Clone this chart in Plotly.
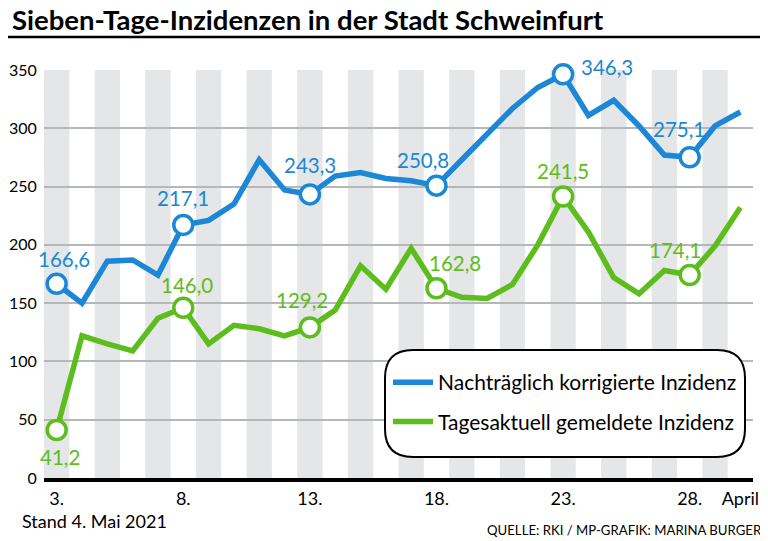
import plotly.graph_objects as go

# ---------------- data ----------------
days = list(range(3, 31))
korrigiert = [166.6, 150, 186, 187, 174, 217.1, 221, 235, 273, 247, 243.3, 259, 262, 257, 255,
              250.8, 273, 295, 317, 335, 346.3, 311, 324, 302, 277, 275.1, 302, 314]
tagesaktuell = [41.2, 122, 115, 109, 137, 146.0, 115, 131, 128, 122, 129.2, 144, 182, 162, 197,
                162.8, 155, 154, 166, 200, 241.5, 211, 172, 158, 178, 174.1, 199, 232]
label_days = [3, 8, 13, 18, 23, 28]
tick_vals = [3, 8, 13, 18, 23, 28, 30]
tick_text = ["3.", "8.", "13.", "18.", "23.", "28.", "April"]
y_ticks = [0, 50, 100, 150, 200, 250, 300, 350]
series_names = ["Nachträglich korrigierte Inzidenz", "Tagesaktuell gemeldete Inzidenz"]

# ---------------- style ----------------
BLUE = "#1b87d6"
GREEN = "#5dbd1c"
STRIPE = "#e4e6e7"
GRID = "#b5b8b8"
FONT = "Lato, Roboto, sans-serif"

# the page body has an 8px margin: work in page pixels and convert
OFF = 8
PAGE_W, PAGE_H = 768, 541
W, H = PAGE_W - OFF, PAGE_H - OFF
pL, pR, pT, pB = 44, 753, 70, 478          # plot area in page pixels
L, R, T, B = pL - OFF, pR - OFF, pT - OFF, pB - OFF


def px(x):  # page pixel x -> paper
    return (x - pL) / (pR - pL)


def py(y):  # page pixel y -> paper
    return (pB - y) / (pB - pT)


fig = go.Figure()

series = [(korrigiert, BLUE, series_names[0], "a"), (tagesaktuell, GREEN, series_names[1], "b")]
for vals, col, name, grp in series:
    fig.add_trace(go.Scatter(x=days, y=vals, mode="lines", name=name, legendgroup=grp,
                             line=dict(color=col, width=5.5), hoverinfo="skip"))
for vals, col, name, grp in series:
    lx = [d for d in days if d in label_days]
    ly = [v for d, v in zip(days, vals) if d in label_days]
    fig.add_trace(go.Scatter(x=lx, y=ly, mode="markers", showlegend=False, legendgroup=grp,
                             cliponaxis=False,
                             marker=dict(size=19, color="white", line=dict(color=col, width=3.5)),
                             hoverinfo="skip"))

# value labels with pixel offsets (dx, dy; dy positive = up)
blue_off = {3: (7, 25), 8: (0, 27), 13: (0, 29), 18: (-13, 26), 23: (44, 7), 28: (-11, 28)}
green_off = {3: (3, -27), 8: (4, 23), 13: (-8, 27), 18: (19, 25), 23: (0, 25), 28: (-15, 25)}
for vals, col, offs in [(korrigiert, BLUE, blue_off), (tagesaktuell, GREEN, green_off)]:
    for d, v in zip(days, vals):
        if d in offs:
            dx, dy = offs[d]
            fig.add_annotation(x=d, y=v, xref="x", yref="y", text=f"{v:.1f}".replace(".", ","),
                               showarrow=False, xshift=dx, yshift=dy,
                               font=dict(family=FONT, size=20.5, color=col))

shapes = []
# alternating day stripes
for d in days:
    if d % 2 == 1:
        shapes.append(dict(type="rect", xref="x", yref="y", x0=d - 0.5, x1=d + 0.5, y0=0, y1=350,
                           fillcolor=STRIPE, line=dict(width=0), layer="below"))

# rounded legend box (page pixels)
bx0, bx1, by0, by1, r = 385, 745, 350, 457, 28


def P(x, y):
    return f"{px(x):.5f},{py(y):.5f}"


path = (f"M {P(bx0 + r, by0)} L {P(bx1 - r, by0)} Q {P(bx1, by0)} {P(bx1, by0 + r)} "
        f"L {P(bx1, by1 - r)} Q {P(bx1, by1)} {P(bx1 - r, by1)} L {P(bx0 + r, by1)} "
        f"Q {P(bx0, by1)} {P(bx0, by1 - r)} L {P(bx0, by0 + r)} Q {P(bx0, by0)} {P(bx0 + r, by0)} Z")
shapes.append(dict(type="path", xref="paper", yref="paper", path=path, fillcolor="white",
                   line=dict(color="black", width=2), layer="above"))

# title underline
shapes.append(dict(type="line", xref="paper", yref="paper", x0=px(0), x1=px(PAGE_W),
                   y0=py(37), y1=py(37), line=dict(color="black", width=2.5)))

fig.update_layout(shapes=shapes)

fig.add_annotation(xref="paper", yref="paper", x=px(OFF + 2), y=py(19), xanchor="left", yanchor="middle",
                   text="Sieben-Tage-Inzidenzen in der Stadt Schweinfurt", showarrow=False,
                   font=dict(family=FONT, size=27.5, color="black", weight="bold"))
fig.add_annotation(xref="paper", yref="paper", x=px(20), y=py(521), xanchor="left", yanchor="middle",
                   text="Stand 4. Mai 2021", showarrow=False,
                   font=dict(family=FONT, size=18, color="black"))
fig.add_annotation(xref="paper", yref="paper", x=px(764), y=py(530), xanchor="right", yanchor="middle",
                   text="QUELLE: RKI / MP-GRAFIK: MARINA BURGER", showarrow=False,
                   font=dict(family=FONT, size=13.2, color="black"))

fig.update_layout(
    width=W, height=H,
    margin=dict(l=L, r=W - R, t=T, b=H - B, pad=0, autoexpand=False),
    paper_bgcolor="white", plot_bgcolor="white",
    font=dict(family=FONT, color="black"),
    showlegend=True,
    legend=dict(x=px(388), y=py(362), xanchor="left", yanchor="top", bgcolor="rgba(0,0,0,0)",
                borderwidth=0, font=dict(family=FONT, size=21, color="black"),
                traceorder="grouped", tracegroupgap=9, itemwidth=40),
    xaxis=dict(range=[2.5, 30.5], tickvals=tick_vals, ticktext=tick_text, showgrid=False,
               zeroline=False, showline=True, linecolor="black", linewidth=4, automargin=False,
               ticks="outside", ticklen=1, tickcolor="rgba(0,0,0,0)",
               tickfont=dict(family=FONT, size=18, color="black")),
    yaxis=dict(range=[0, 350], tickvals=y_ticks, showgrid=True, gridcolor=GRID, gridwidth=2,
               zeroline=False, showline=False, ticks="outside", ticklen=3, automargin=False,
               tickcolor="rgba(0,0,0,0)", tickfont=dict(family=FONT, size=16, color="black")),
)

fig.write_html("out.html")
